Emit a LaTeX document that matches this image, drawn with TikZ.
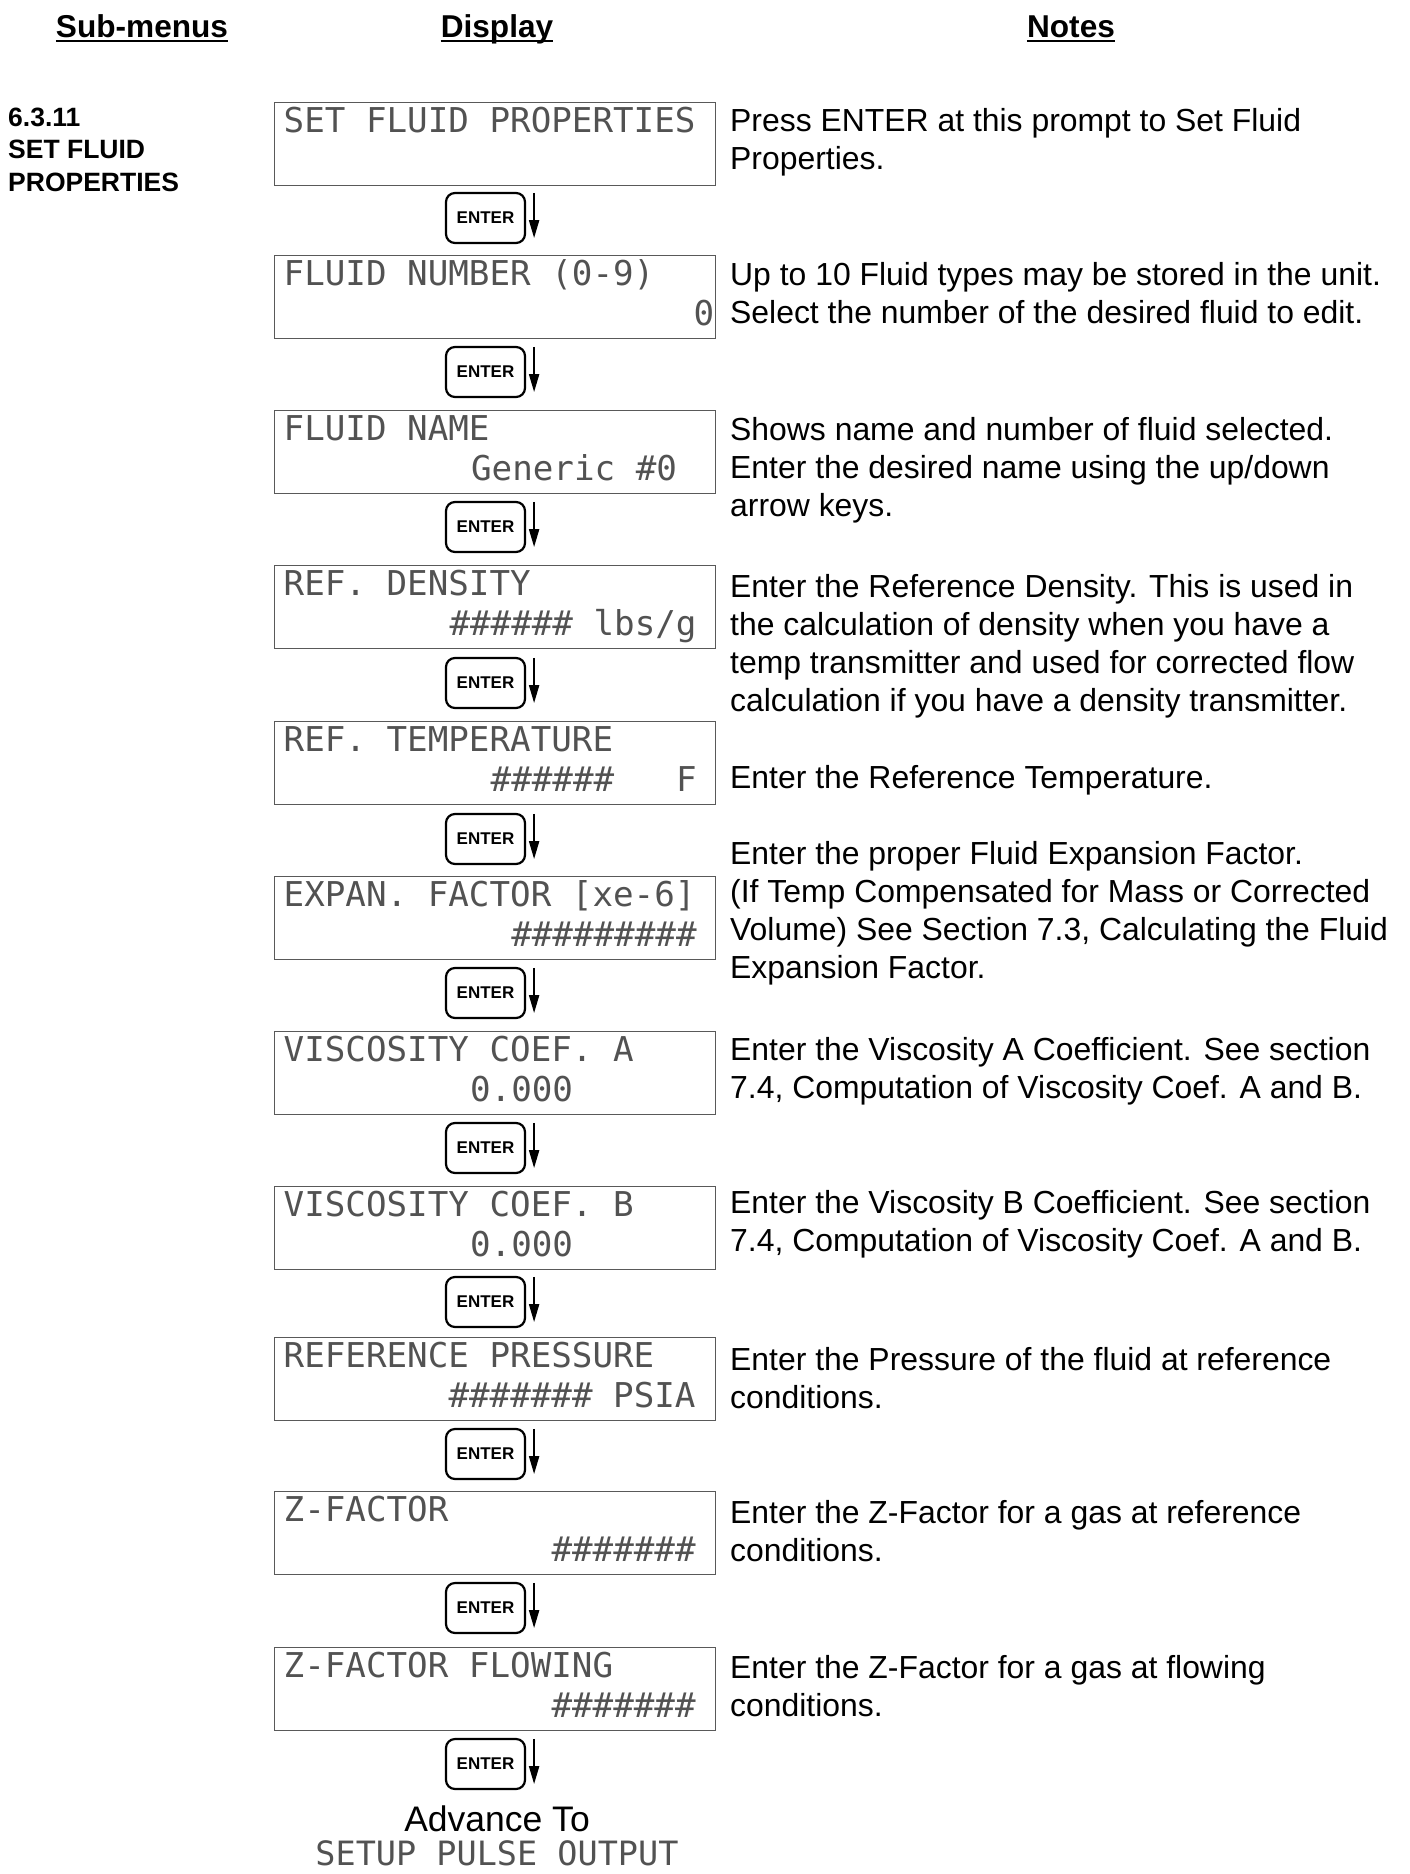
\documentclass[tikz,border=0pt]{standalone}
\usepackage{fontspec}
\setmainfont{Liberation Sans}
\newfontfamily\lcdfont{DejaVu Sans Mono}
\usetikzlibrary{arrows.meta,calc}
\begin{document}
\begin{tikzpicture}[x=1pt,y=-1pt,
  lcdbox/.style={draw=black!65, line width=1.4pt, minimum width=441pt, minimum height=83pt, inner sep=0pt, anchor=north west},
  lcd/.style={font=\lcdfont\fontsize{34.2}{40}\selectfont, text=black!68, inner sep=0pt, anchor=base west},
  enterbtn/.style={draw=black, line width=2.2pt, rounded corners=9pt, minimum width=79pt, minimum height=50pt, inner sep=0pt, font=\bfseries\fontsize{17}{20}\selectfont},
  arr/.style={line width=2pt, -{Triangle[length=18pt,width=10pt]}},
  note/.style={font=\fontsize{31.9}{38}\selectfont, inner sep=0pt, anchor=base west},
  head/.style={font=\bfseries\fontsize{31.6}{36}\selectfont, inner sep=0pt, anchor=base},
  sublbl/.style={font=\bfseries\fontsize{26.5}{31}\selectfont, inner sep=0pt, anchor=base west},
  uline/.style={line width=2pt}]

\useasboundingbox (0,0) rectangle (1409,1874);

% headers
\node[head] (h1) at (142,37) {Sub-menus};
\node[head] (h2) at (497,37) {Display};
\node[head] (h3) at (1071,37) {Notes};
\draw[uline] ([yshift=-3.5pt]h1.base west) -- ([yshift=-3.5pt]h1.base east);
\draw[uline] ([yshift=-3.5pt]h2.base west) -- ([yshift=-3.5pt]h2.base east);
\draw[uline] ([yshift=-3.5pt]h3.base west) -- ([yshift=-3.5pt]h3.base east);

% sub-menu label
\node[sublbl] (s1) at (8,126) {6.3.11};
\node[sublbl] (s2) at (8,158.5) {SET FLUID};
\node[sublbl] (s3) at (8,191) {PROPERTIES};

% LCD boxes
\node[lcdbox] (b1) at (274,102) {};
\node[lcdbox] (b2) at (274,255) {};
\node[lcdbox] (b3) at (274,410) {};
\node[lcdbox] (b4) at (274,565) {};
\node[lcdbox] (b5) at (274,721) {};
\node[lcdbox] (b6) at (274,876) {};
\node[lcdbox] (b7) at (274,1031) {};
\node[lcdbox] (b8) at (274,1186) {};
\node[lcdbox] (b9) at (274,1337) {};
\node[lcdbox] (b10) at (274,1491) {};
\node[lcdbox] (b11) at (274,1647) {};

% LCD texts
\node[lcd] (t1a) at (283.5,132) {SET FLUID PROPERTIES};
\node[lcd] (t2a) at (283.5,285) {FLUID NUMBER (0-9)};
\node[lcd] (t2b) at (693.5,325) {0};
\node[lcd] (t3a) at (283.5,440) {FLUID NAME};
\node[lcd] (t3b) at (470.9,480) {Generic \#0};
\node[lcd] (t4a) at (283.5,595) {REF. DENSITY};
\node[lcd] (t4b) at (449.3,635) {\#\#\#\#\#\# lbs/g};
\node[lcd] (t5a) at (283.5,751) {REF. TEMPERATURE};
\node[lcd] (t5b) at (490.5,791) {\#\#\#\#\#\#};
\node[lcd] (t5c) at (675.9,791) {F};
\node[lcd] (t6a) at (283.5,906) {EXPAN. FACTOR [xe-6]};
\node[lcd] (t6b) at (511.1,946) {\#\#\#\#\#\#\#\#\#};
\node[lcd] (t7a) at (283.5,1061) {VISCOSITY COEF. A};
\node[lcd] (t7b) at (469.9,1101) {0.000};
\node[lcd] (t8a) at (283.5,1216) {VISCOSITY COEF. B};
\node[lcd] (t8b) at (469.9,1256) {0.000};
\node[lcd] (t9a) at (283.5,1367) {REFERENCE PRESSURE};
\node[lcd] (t9b) at (448.3,1407) {\#\#\#\#\#\#\# PSIA};
\node[lcd] (t10a) at (283.5,1521) {Z-FACTOR};
\node[lcd] (t10b) at (551.3,1561) {\#\#\#\#\#\#\#};
\node[lcd] (t11a) at (283.5,1677) {Z-FACTOR FLOWING};
\node[lcd] (t11b) at (551.3,1717) {\#\#\#\#\#\#\#};

% ENTER buttons
\node[enterbtn] (e1) at (485.5,218) {ENTER};
\node[enterbtn] (e2) at (485.5,372) {ENTER};
\node[enterbtn] (e3) at (485.5,527) {ENTER};
\node[enterbtn] (e4) at (485.5,683) {ENTER};
\node[enterbtn] (e5) at (485.5,839) {ENTER};
\node[enterbtn] (e6) at (485.5,993) {ENTER};
\node[enterbtn] (e7) at (485.5,1148) {ENTER};
\node[enterbtn] (e8) at (485.5,1302) {ENTER};
\node[enterbtn] (e9) at (485.5,1454) {ENTER};
\node[enterbtn] (e10) at (485.5,1608) {ENTER};
\node[enterbtn] (e11) at (485.5,1764) {ENTER};
\foreach \i in {1,...,11}{
  \draw[arr] ([xshift=8pt,yshift=-1pt]e\i.north east) -- ([xshift=8pt,yshift=6pt]e\i.south east);
}

% advance to
\node[font=\fontsize{35.5}{40}\selectfont, inner sep=0pt, anchor=base] (adv) at (497,1831) {Advance To};
\node[lcd, anchor=base, font=\lcdfont\fontsize{33.5}{40}\selectfont] (adv2) at (497,1865) {SETUP PULSE OUTPUT};

% notes
\node[note] (n1a) at (730,131) {Press ENTER at this prompt to Set Fluid};
\node[note] (n1b) at (730,169.3) {Properties.};

\node[note] (n2a) at (730,285) {Up to 10 Fluid types may be stored in the unit.};
\node[note] (n2b) at (730,323.3) {Select the number of the desired fluid to edit.};

\node[note] (n3a) at (730,440) {Shows name and number of fluid selected.};
\node[note] (n3b) at (730,478.3) {Enter the desired name using the up/down};
\node[note] (n3c) at (730,516.6) {arrow keys.};

\node[note] (n4a) at (730,597) {Enter the Reference Density. This is used in};
\node[note] (n4b) at (730,635.3) {the calculation of density when you have a};
\node[note] (n4c) at (730,673.6) {temp transmitter and used for corrected flow};
\node[note] (n4d) at (730,711.9) {calculation if you have a density transmitter.};

\node[note] (n5a) at (730,788) {Enter the Reference Temperature.};

\node[note] (n6a) at (730,864) {Enter the proper Fluid Expansion Factor.};
\node[note] (n6b) at (730,902.3) {(If Temp Compensated for Mass or Corrected};
\node[note] (n6c) at (730,940.6) {Volume) See Section 7.3, Calculating the Fluid};
\node[note] (n6d) at (730,978.9) {Expansion Factor.};

\node[note] (n7a) at (730,1060) {Enter the Viscosity A Coefficient. See section};
\node[note] (n7b) at (730,1098.3) {7.4, Computation of Viscosity Coef. A and B.};

\node[note] (n8a) at (730,1213) {Enter the Viscosity B Coefficient. See section};
\node[note] (n8b) at (730,1251.3) {7.4, Computation of Viscosity Coef. A and B.};

\node[note] (n9a) at (730,1370) {Enter the Pressure of the fluid at reference};
\node[note] (n9b) at (730,1408.3) {conditions.};

\node[note] (n10a) at (730,1523) {Enter the Z-Factor for a gas at reference};
\node[note] (n10b) at (730,1561.3) {conditions.};

\node[note] (n11a) at (730,1678) {Enter the Z-Factor for a gas at flowing};
\node[note] (n11b) at (730,1716.3) {conditions.};
\end{tikzpicture}
\end{document}
